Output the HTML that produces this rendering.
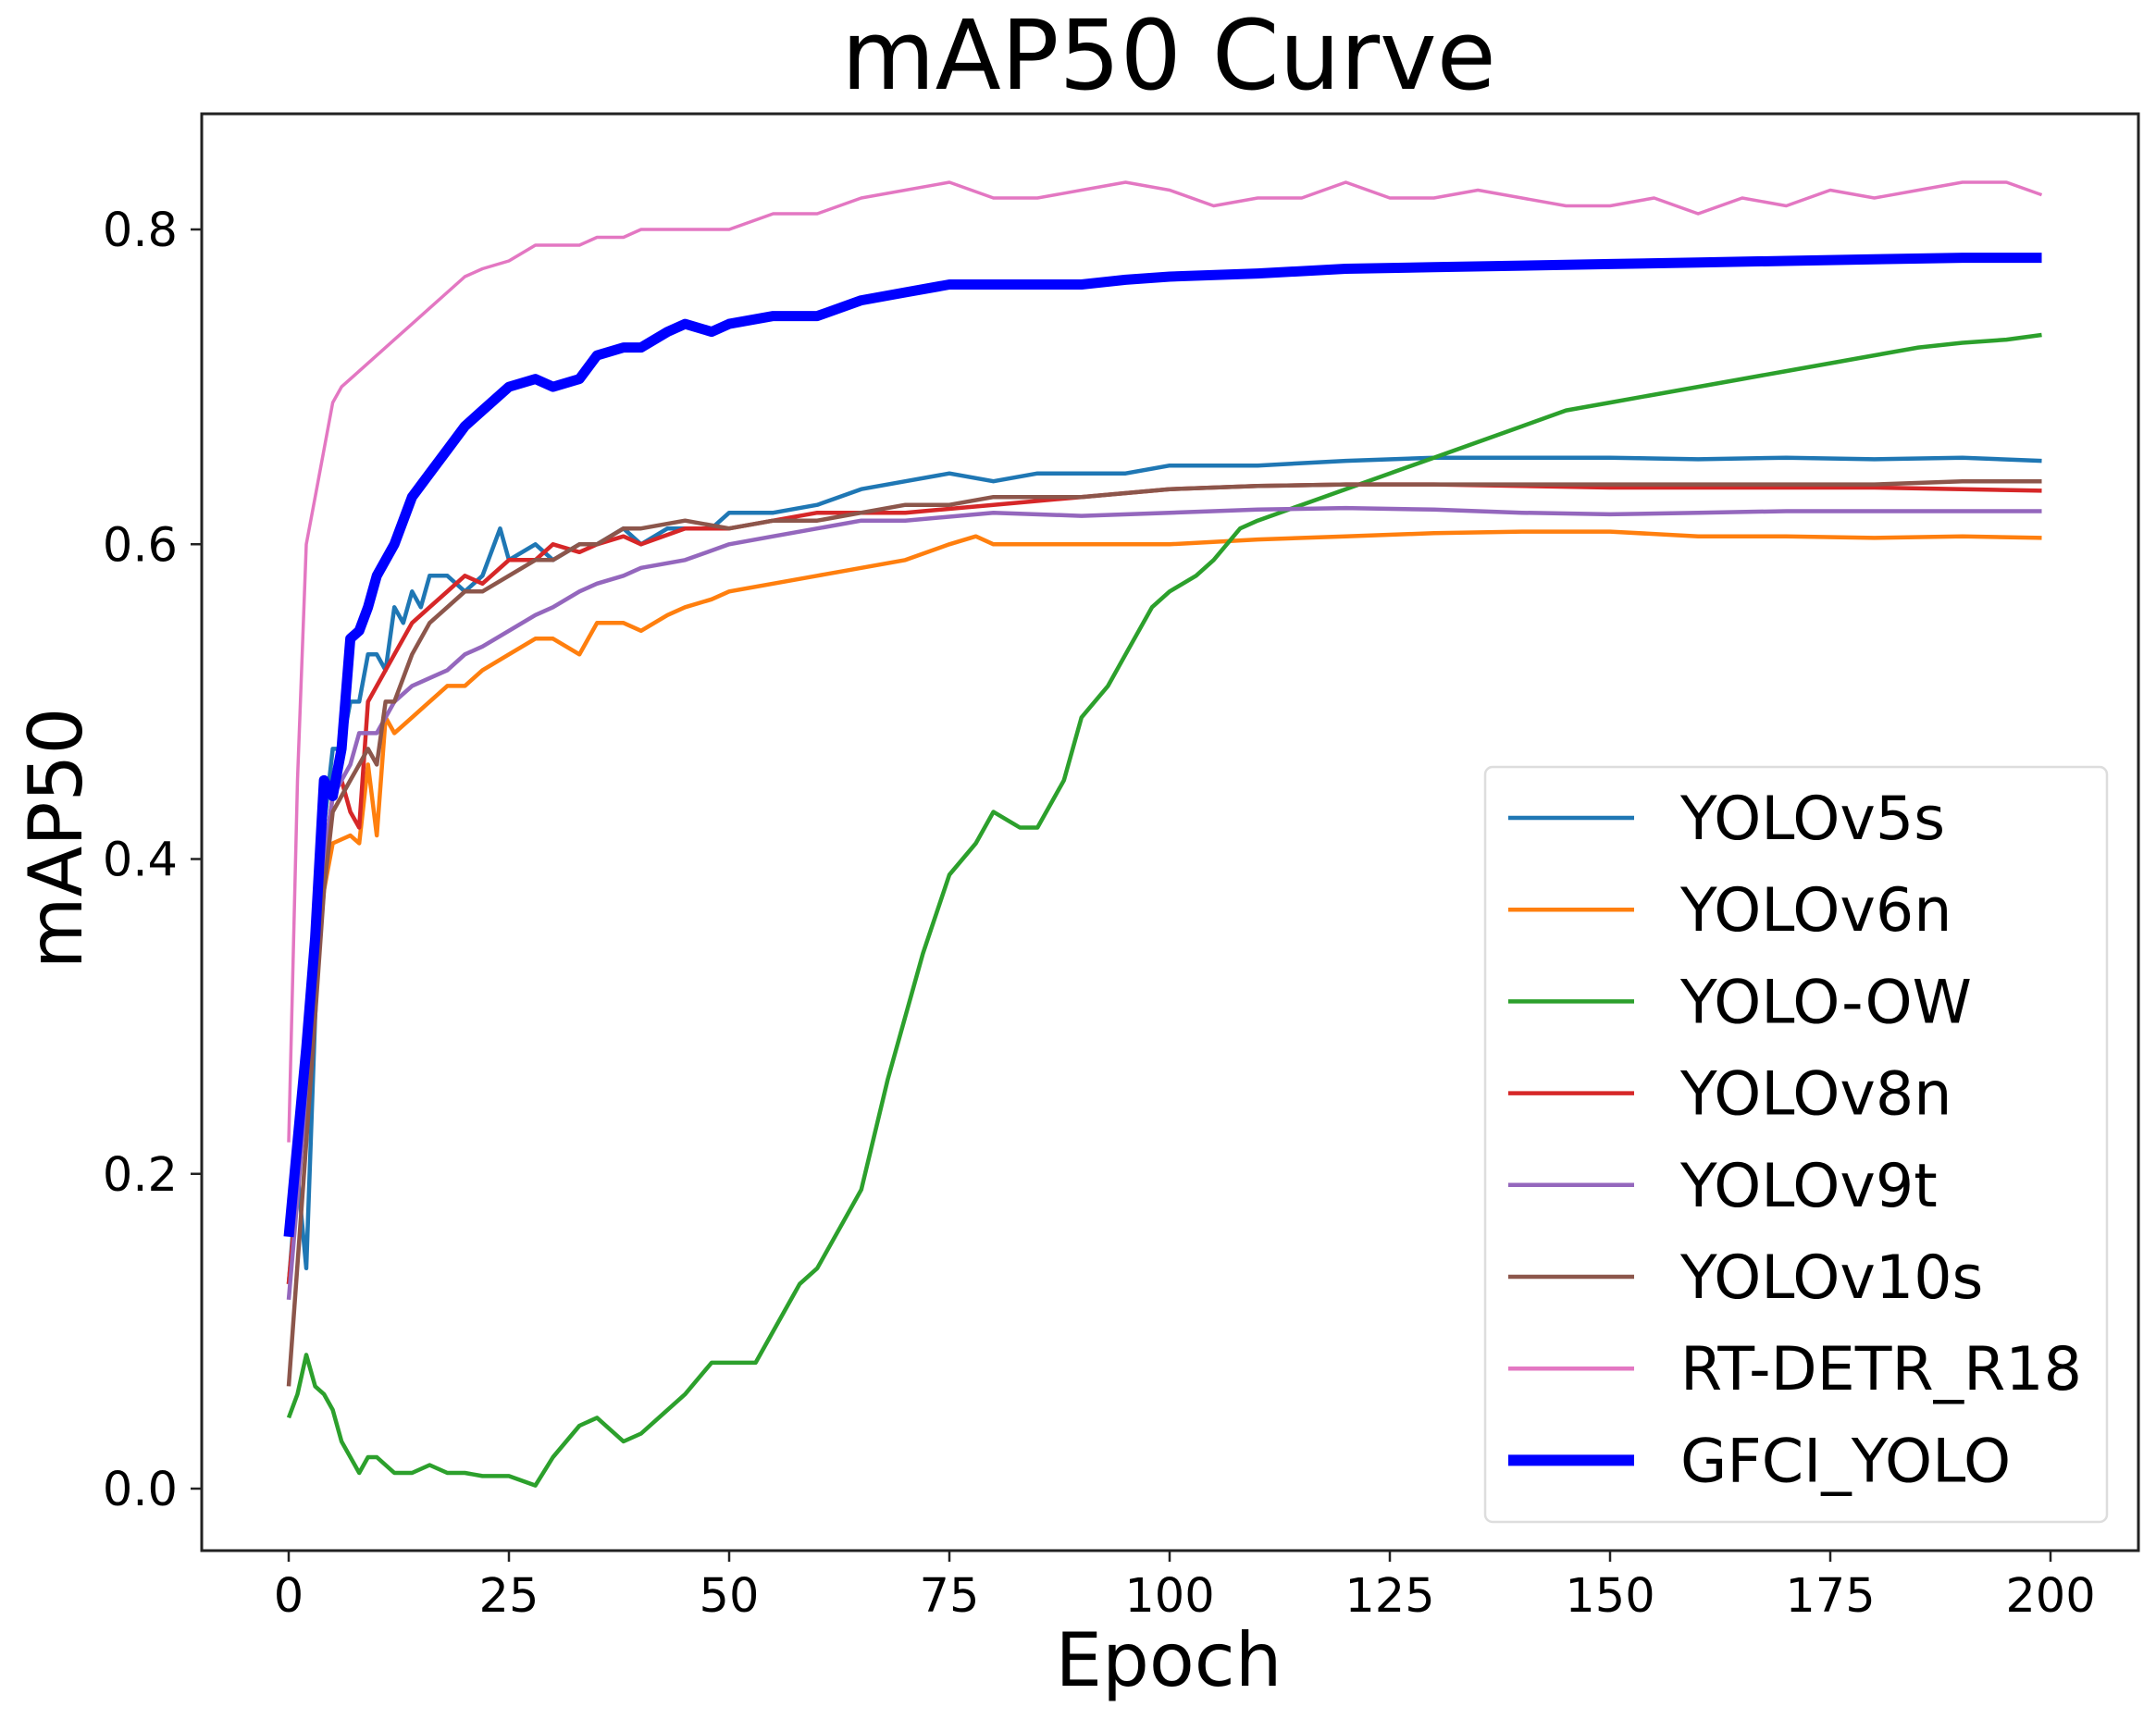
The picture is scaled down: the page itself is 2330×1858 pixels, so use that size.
<!DOCTYPE html>
<html><head><meta charset="utf-8"><style>
html,body{margin:0;padding:0;background:#fff;}
svg{display:block;font-family:"DejaVu Sans","Liberation Sans",sans-serif;}
</style></head><body>
<svg id="chart" width="2330" height="1858" viewBox="0 0 2330 1858" xmlns="http://www.w3.org/2000/svg">
<rect width="2330" height="1858" fill="#fff"/>
<text x="1263" y="96" font-size="104" text-anchor="middle" fill="#000">mAP50 Curve</text>
<text x="1263" y="1822" font-size="80" text-anchor="middle" fill="#000">Epoch</text>
<text transform="translate(88,906) rotate(-90)" font-size="80" text-anchor="middle" fill="#000">mAP50</text>
<g id="ticks"></g>
<g id="series"></g>
<rect x="218" y="123" width="2093" height="1553" fill="none" stroke="#222" stroke-width="3"/>
<g id="legend"></g>
</svg>
<script>
const xTicks=[0,25,50,75,100,125,150,175,200];
const yTicks=[0.0,0.2,0.4,0.6,0.8];
const yTickLabels=["0.0","0.2","0.4","0.6","0.8"];
const seriesNames=["YOLOv5s","YOLOv6n","YOLO-OW","YOLOv8n","YOLOv9t","YOLOv10s","RT-DETR_R18","GFCI_YOLO"];
const v5Epochs=[0,1,2,3,4,5,6,7,8,9,10,11,12,13,14,15,16,18,20,22,24,25,28,30,33,35,38,40,43,45,48,50,55,60,65,70,75,80,85,90,95,100,110,120,130,140,150,160,170,180,190,199];
const v5Values=[0.13,0.2,0.14,0.3,0.42,0.47,0.47,0.5,0.5,0.53,0.53,0.52,0.56,0.55,0.57,0.56,0.58,0.58,0.57,0.58,0.61,0.59,0.6,0.59,0.6,0.6,0.61,0.6,0.61,0.61,0.61,0.62,0.62,0.625,0.635,0.64,0.645,0.64,0.645,0.645,0.645,0.65,0.65,0.653,0.655,0.655,0.655,0.654,0.655,0.654,0.655,0.653];
const v6Epochs=[0,2,4,5,7,8,9,10,11,12,14,16,18,20,22,25,28,30,33,35,38,40,43,45,48,50,55,60,65,70,75,78,80,90,100,110,120,130,140,150,160,170,180,190,199];
const v6Values=[0.13,0.25,0.38,0.41,0.415,0.41,0.46,0.415,0.49,0.48,0.49,0.5,0.51,0.51,0.52,0.53,0.54,0.54,0.53,0.55,0.55,0.545,0.555,0.56,0.565,0.57,0.575,0.58,0.585,0.59,0.6,0.605,0.6,0.6,0.6,0.603,0.605,0.607,0.608,0.608,0.605,0.605,0.604,0.605,0.604];
const owEpochs=[0,1,2,3,4,5,6,8,9,10,12,14,16,18,20,22,25,28,30,33,35,38,40,43,45,48,50,53,55,58,60,63,65,68,70,72,75,78,80,83,85,88,90,93,95,98,100,103,105,108,110,115,120,125,130,135,140,145,150,155,160,165,170,175,180,185,190,195,199];
const owValues=[0.045,0.06,0.085,0.065,0.06,0.05,0.03,0.01,0.02,0.02,0.01,0.01,0.015,0.01,0.01,0.008,0.008,0.002,0.02,0.04,0.045,0.03,0.035,0.05,0.06,0.08,0.08,0.08,0.1,0.13,0.14,0.17,0.19,0.26,0.3,0.34,0.39,0.41,0.43,0.42,0.42,0.45,0.49,0.51,0.53,0.56,0.57,0.58,0.59,0.61,0.615,0.625,0.635,0.645,0.655,0.665,0.675,0.685,0.69,0.695,0.7,0.705,0.71,0.715,0.72,0.725,0.728,0.73,0.733];
const v8Epochs=[0,2,4,5,6,7,8,9,10,12,14,16,18,20,22,25,28,30,33,35,38,40,45,50,55,60,70,80,90,100,110,120,130,140,150,160,170,180,190,199];
const v8Values=[0.13,0.25,0.4,0.44,0.45,0.43,0.42,0.5,0.51,0.53,0.55,0.56,0.57,0.58,0.575,0.59,0.59,0.6,0.595,0.6,0.605,0.6,0.61,0.61,0.615,0.62,0.62,0.625,0.63,0.635,0.637,0.638,0.638,0.637,0.636,0.636,0.636,0.636,0.635,0.634];
const v9Epochs=[0,2,4,5,7,8,10,12,14,16,18,20,22,25,28,30,33,35,38,40,45,50,55,60,65,70,80,90,100,110,120,130,140,150,160,170,180,190,199];
const v9Values=[0.12,0.25,0.4,0.44,0.46,0.48,0.48,0.5,0.51,0.515,0.52,0.53,0.535,0.545,0.555,0.56,0.57,0.575,0.58,0.585,0.59,0.6,0.605,0.61,0.615,0.615,0.62,0.618,0.62,0.622,0.623,0.622,0.62,0.619,0.62,0.621,0.621,0.621,0.621];
const v10Epochs=[0,2,4,5,7,8,9,10,11,12,14,16,18,20,22,25,28,30,33,35,38,40,45,50,55,60,65,70,75,80,90,100,110,120,130,140,150,160,170,180,190,199];
const v10Values=[0.065,0.22,0.38,0.43,0.45,0.46,0.47,0.46,0.5,0.5,0.53,0.55,0.56,0.57,0.57,0.58,0.59,0.59,0.6,0.6,0.61,0.61,0.615,0.61,0.615,0.615,0.62,0.625,0.625,0.63,0.63,0.635,0.637,0.638,0.638,0.638,0.638,0.638,0.638,0.638,0.64,0.64];
const rtEpochs=[0,1,2,3,4,5,6,8,10,12,14,16,18,20,22,25,28,30,33,35,38,40,45,50,55,60,65,70,75,80,85,90,95,100,105,110,115,120,125,130,135,140,145,150,155,160,165,170,175,180,185,190,195,199];
const rtValues=[0.22,0.45,0.6,0.63,0.66,0.69,0.7,0.71,0.72,0.73,0.74,0.75,0.76,0.77,0.775,0.78,0.79,0.79,0.79,0.795,0.795,0.8,0.8,0.8,0.81,0.81,0.82,0.825,0.83,0.82,0.82,0.825,0.83,0.825,0.815,0.82,0.82,0.83,0.82,0.82,0.825,0.82,0.815,0.815,0.82,0.81,0.82,0.815,0.825,0.82,0.825,0.83,0.83,0.822];
const gfEpochs=[0,1,2,3,4,5,6,7,8,9,10,12,14,16,18,20,22,25,28,30,33,35,38,40,43,45,48,50,55,60,65,70,75,80,85,90,95,100,110,120,130,140,150,160,170,180,190,199];
const gfValues=[0.16,0.22,0.28,0.35,0.45,0.44,0.47,0.54,0.545,0.56,0.58,0.6,0.63,0.645,0.66,0.675,0.685,0.7,0.705,0.7,0.705,0.72,0.725,0.725,0.735,0.74,0.735,0.74,0.745,0.745,0.755,0.76,0.765,0.765,0.765,0.765,0.768,0.77,0.772,0.775,0.776,0.777,0.778,0.779,0.78,0.781,0.782,0.782];

const NS="http://www.w3.org/2000/svg";
function xs(e){return 312+(e/200)*(2216-312);}
function ys(v){return 1609-(v/0.8)*(1609-248);}
const colors=["#1f77b4","#ff7f0e","#2ca02c","#d62728","#9467bd","#8c564b","#e377c2","#0000ff"];
const widths=[4.5,4.5,4.5,4.5,4.5,4.5,3.5,11];
const allE=[v5Epochs,v6Epochs,owEpochs,v8Epochs,v9Epochs,v10Epochs,rtEpochs,gfEpochs];
const allV=[v5Values,v6Values,owValues,v8Values,v9Values,v10Values,rtValues,gfValues];

const tg=document.getElementById('ticks');
xTicks.forEach(t=>{
  const l=document.createElementNS(NS,'line');
  
  
  l.setAttribute('x1',xs(t));l.setAttribute('x2',xs(t));l.setAttribute('y1',1676);l.setAttribute('y2',1688);
  l.setAttribute('stroke','#222');l.setAttribute('stroke-width','2.5');tg.appendChild(l);
  const tx=document.createElementNS(NS,'text');
  
  
  tx.setAttribute('x',xs(t));tx.setAttribute('y',1742);tx.setAttribute('font-size','51');tx.setAttribute('text-anchor','middle');
  tx.textContent=String(t);tg.appendChild(tx);
});
yTicks.forEach((t,i)=>{
  const l=document.createElementNS(NS,'line');
  
  
  l.setAttribute('x1',206);l.setAttribute('x2',218);l.setAttribute('y1',ys(t));l.setAttribute('y2',ys(t));
  l.setAttribute('stroke','#222');l.setAttribute('stroke-width','2.5');tg.appendChild(l);
  const tx=document.createElementNS(NS,'text');
  
  
  tx.setAttribute('x',192);tx.setAttribute('y',ys(t)+18);tx.setAttribute('font-size','51');tx.setAttribute('text-anchor','end');
  tx.textContent=yTickLabels[i];tg.appendChild(tx);
});

const sg=document.getElementById('series');
seriesNames.forEach((n,k)=>{
  const p=document.createElementNS(NS,'polyline');
  
  
  p.setAttribute('points',allE[k].map((e,i)=>xs(e).toFixed(1)+','+ys(allV[k][i]).toFixed(1)).join(' '));
  p.setAttribute('fill','none');p.setAttribute('stroke',colors[k]);p.setAttribute('stroke-width',widths[k]);
  p.setAttribute('stroke-linejoin','round');
  sg.appendChild(p);
});

const lg=document.getElementById('legend');
const box=document.createElementNS(NS,'rect');


box.setAttribute('x',1605);box.setAttribute('y',829);box.setAttribute('width',672);box.setAttribute('height',816);
box.setAttribute('rx',8);box.setAttribute('fill','#fff');box.setAttribute('fill-opacity','0.85');box.setAttribute('stroke','#ddd');box.setAttribute('stroke-width','2.5');
lg.appendChild(box);
seriesNames.forEach((n,k)=>{
  const y=884+k*99.2;
  const l=document.createElementNS(NS,'line');
  
  
  l.setAttribute('x1',1630);l.setAttribute('x2',1766);l.setAttribute('y1',y);l.setAttribute('y2',y);
  l.setAttribute('stroke',colors[k]);l.setAttribute('stroke-width',k===7?12:4.5);lg.appendChild(l);
  const tx=document.createElementNS(NS,'text');
  
  
  tx.setAttribute('x',1816);tx.setAttribute('y',y+23);tx.setAttribute('font-size','65');
  tx.textContent=n;lg.appendChild(tx);
});
</script>
</body></html>
